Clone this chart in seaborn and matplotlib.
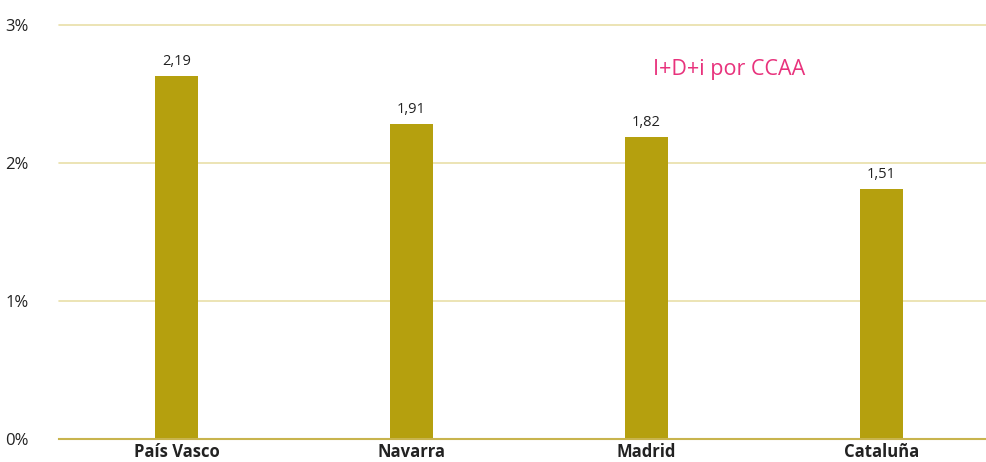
import pandas as pd
import matplotlib.pyplot as plt
import seaborn as sns

# Datos
regiones = ['País Vasco', 'Navarra', 'Madrid', 'Cataluña']
alturas = [2.63, 2.28, 2.19, 1.81]          # altura de las barras
etiquetas = ['2,19', '1,91', '1,82', '1,51']  # texto de las etiquetas

df = pd.DataFrame({'region': regiones, 'valor': alturas})

sns.set_style('white')
plt.rcParams['font.family'] = ['Open Sans', 'DejaVu Sans']

fig = plt.figure(figsize=(9.86, 4.62), dpi=100)
ax = fig.add_axes([59 / 986, 23 / 462, 927 / 986, 414 / 462])

sns.barplot(data=df, x='region', y='valor', color='#B5A00E', saturation=1,
            width=0.183, linewidth=0, ax=ax, zorder=3)

for i, txt in enumerate(etiquetas):
    ax.text(i, alturas[i] + 0.05, txt, ha='center', va='bottom',
            fontsize=10.5, color='#222222')

ax.set_ylim(0, 3)
ax.set_xlim(-0.5, 3.445)
ax.set_yticks([0, 1, 2, 3])
ax.set_yticklabels(['0%', '1%', '2%', '3%'], fontsize=12, color='#222222')
ax.yaxis.grid(True, color='#E9DFA8', linewidth=1.2, zorder=0)
for gl in ax.get_ygridlines():
    gl.set_clip_on(False)
ax.tick_params(axis='y', length=0, pad=22)
ax.tick_params(axis='x', length=0, pad=3)
for lab in ax.get_xticklabels():
    lab.set_fontweight('bold')
    lab.set_fontsize(12)
    lab.set_color('#222222')
ax.set_xlabel('')
ax.set_ylabel('')

for s in ['top', 'right', 'left']:
    ax.spines[s].set_visible(False)
ax.spines['bottom'].set_color('#C8B44E')
ax.spines['bottom'].set_linewidth(1.5)
ax.spines['bottom'].set_zorder(4)

ax.text(2.35, 2.68, 'I+D+i por CCAA', ha='center', va='center',
        fontsize=15.5, color='#E8327C')

fig.savefig('out.png', dpi=100)
